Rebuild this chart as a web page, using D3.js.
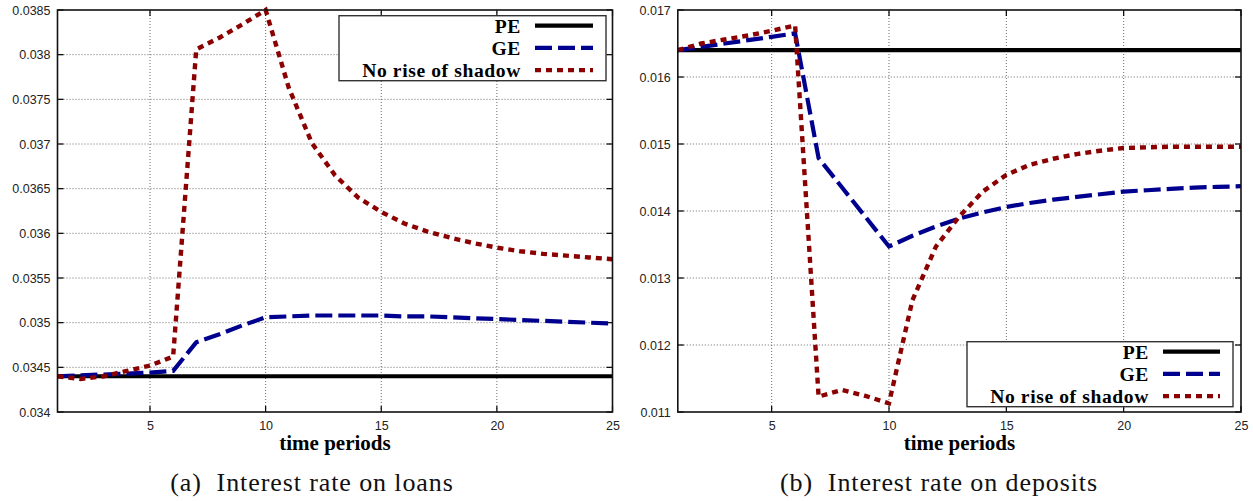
<!DOCTYPE html>
<html>
<head>
<meta charset="utf-8">
<script src="https://cdn.jsdelivr.net/npm/d3@7/dist/d3.min.js"></script>
<style>
  html, body { margin: 0; padding: 0; background: #fff; }
  svg { display: block; }
</style>
</head>
<body>
<svg id="chart" width="1253" height="501"></svg>
<script>
// ---------------- DATA ----------------
const periods = [1,2,3,4,5,6,7,8,9,10,11,12,13,14,15,16,17,18,19,20,21,22,23,24,25];

// (a) Interest rate on loans
const loansPE = [0.0344,0.0344,0.0344,0.0344,0.0344,0.0344,0.0344,0.0344,0.0344,0.0344,0.0344,0.0344,0.0344,0.0344,0.0344,0.0344,0.0344,0.0344,0.0344,0.0344,0.0344,0.0344,0.0344,0.0344,0.0344];
const loansGE = [0.03440,0.03441,0.03442,0.03443,0.03444,0.03446,0.03478,0.03487,0.03497,0.03506,0.03507,0.03508,0.03508,0.03508,0.03508,0.03507,0.03507,0.03506,0.03505,0.03504,0.03503,0.03502,0.03501,0.03500,0.03499];
const loansNoRise = [0.03440,0.03437,0.03440,0.03446,0.03452,0.03462,0.03806,0.03819,0.03834,0.03850,0.03763,0.03701,0.03665,0.03640,0.03624,0.03611,0.03602,0.03595,0.03589,0.03584,0.03580,0.03577,0.03575,0.03573,0.03571];

// (b) Interest rate on deposits
const depositsPE = [0.0164,0.0164,0.0164,0.0164,0.0164,0.0164,0.0164,0.0164,0.0164,0.0164,0.0164,0.0164,0.0164,0.0164,0.0164,0.0164,0.0164,0.0164,0.0164,0.0164,0.0164,0.0164,0.0164,0.0164,0.0164];
const depositsGE = [0.01640,0.01645,0.01650,0.01655,0.01660,0.01665,0.01479,0.01435,0.01391,0.01347,0.01363,0.01377,0.01389,0.01398,0.01406,0.01412,0.01417,0.01421,0.01425,0.01429,0.01431,0.01433,0.01435,0.01436,0.01437];
const depositsNoRise = [0.01640,0.01650,0.01656,0.01662,0.01669,0.01677,0.01123,0.01133,0.01124,0.01113,0.01267,0.01347,0.01392,0.01429,0.01454,0.01469,0.01478,0.01485,0.01490,0.01494,0.01495,0.01496,0.01496,0.01496,0.01496];

// Axis ticks
const xTicks = [5,10,15,20,25];
const loansYTicks = [0.034,0.0345,0.035,0.0355,0.036,0.0365,0.037,0.0375,0.038,0.0385];
const loansYLabels = ["0.034","0.0345","0.035","0.0355","0.036","0.0365","0.037","0.0375","0.038","0.0385"];
const depositsYTicks = [0.011,0.012,0.013,0.014,0.015,0.016,0.017];
const depositsYLabels = ["0.011","0.012","0.013","0.014","0.015","0.016","0.017"];

const seriesNames = ["PE","GE","No rise of shadow"];
const xLabel = "time periods";
const captions = ["(a)  Interest rate on loans", "(b)  Interest rate on deposits"];

// ---------------- STYLE ----------------
const styles = [
  { color: "#000000", width: 4.2, dash: null },
  { color: "#00008f", width: 4.2, dash: "17,6" },
  { color: "#8b0000", width: 4.4, dash: "6,5" }
];

const svg = d3.select("#chart");

function panel(cfg) {
  const x = d3.scaleLinear().domain([1, 25]).range([cfg.x0, cfg.x1]);
  const y = d3.scaleLinear().domain(cfg.yDomain).range([412, 10]);
  const g = svg.append("g");

  // grid
  g.append("g").selectAll("line").data(xTicks.filter(d => d < 25)).join("line")
    .attr("x1", d => x(d)).attr("x2", d => x(d)).attr("y1", y.range()[0]).attr("y2", y.range()[1])
    .attr("stroke", "#444").attr("stroke-width", 0.8).attr("stroke-dasharray", "1,2");
  g.append("g").selectAll("line").data(cfg.yTicks.slice(1, -1)).join("line")
    .attr("x1", x.range()[0]).attr("x2", x.range()[1]).attr("y1", d => y(d)).attr("y2", d => y(d))
    .attr("stroke", "#444").attr("stroke-width", 0.8).attr("stroke-dasharray", "1,2");

  // axes (labels) using d3 axes
  const yAxis = d3.axisLeft(y).tickValues(cfg.yTicks).tickFormat((d, i) => cfg.yLabels[i]).tickSize(0).tickPadding(7);
  const ya = g.append("g").attr("transform", `translate(${x.range()[0]},0)`).call(yAxis);
  ya.select(".domain").remove();
  ya.selectAll("text").attr("font-family", "'Liberation Sans', Arial, sans-serif").attr("font-size", 12.5).attr("fill", "#222");

  const xAxis = d3.axisBottom(x).tickValues(xTicks).tickSize(0).tickPadding(9);
  const xa = g.append("g").attr("transform", `translate(0,412)`).call(xAxis);
  xa.select(".domain").remove();
  xa.selectAll("text").attr("font-family", "'Liberation Sans', Arial, sans-serif").attr("font-size", 12.5).attr("fill", "#222");

  // inward ticks (mirrored)
  const tl = 6;
  g.append("g").selectAll("line").data(cfg.yTicks).join("line")
    .attr("x1", x.range()[0]).attr("x2", x.range()[0] + tl).attr("y1", d => y(d)).attr("y2", d => y(d))
    .attr("stroke", "#000").attr("stroke-width", 1.2);
  g.append("g").selectAll("line").data(cfg.yTicks).join("line")
    .attr("x1", x.range()[1]).attr("x2", x.range()[1] - tl).attr("y1", d => y(d)).attr("y2", d => y(d))
    .attr("stroke", "#000").attr("stroke-width", 1.2);
  g.append("g").selectAll("line").data(xTicks).join("line")
    .attr("x1", d => x(d)).attr("x2", d => x(d)).attr("y1", 412).attr("y2", 412 - tl)
    .attr("stroke", "#000").attr("stroke-width", 1.2);
  g.append("g").selectAll("line").data(xTicks).join("line")
    .attr("x1", d => x(d)).attr("x2", d => x(d)).attr("y1", 10).attr("y2", 10 + tl)
    .attr("stroke", "#000").attr("stroke-width", 1.2);

  // series
  const line = d3.line().x((d, i) => x(periods[i])).y(d => y(d)).curve(d3.curveLinear);
  cfg.series.forEach((s, i) => {
    g.append("path").datum(s).attr("d", line)
      .attr("fill", "none").attr("stroke", styles[i].color).attr("stroke-width", styles[i].width)
      .attr("stroke-dasharray", styles[i].dash).attr("stroke-linejoin", "miter");
  });

  // frame
  g.append("rect").attr("x", x.range()[0]).attr("y", 10)
    .attr("width", x.range()[1] - x.range()[0]).attr("height", 402)
    .attr("fill", "none").attr("stroke", "#111").attr("stroke-width", 1.6);

  // x axis title
  g.append("text").attr("x", (x.range()[0] + x.range()[1]) / 2).attr("y", 450)
    .attr("text-anchor", "middle").attr("font-family", "'Liberation Serif', 'Times New Roman', serif")
    .attr("font-weight", "bold").attr("font-size", 21).text(xLabel);

  // caption
  g.append("text").attr("x", cfg.capX).attr("y", 491)
    .attr("text-anchor", "middle").attr("font-family", "'Liberation Serif', 'Times New Roman', serif")
    .attr("font-size", 26).attr("letter-spacing", 0.9).attr("fill", "#111").style("white-space", "pre").text(cfg.caption);

  // legend
  const L = cfg.legend;
  const lg = g.append("g");
  lg.append("rect").attr("x", L.x0).attr("y", L.y0).attr("width", L.x1 - L.x0).attr("height", 65)
    .attr("fill", "#fff").attr("stroke", "#333").attr("stroke-width", 1.4);
  seriesNames.forEach((name, i) => {
    const ly = L.y0 + 10 + i * 22.2;
    lg.append("text").attr("x", L.textX).attr("y", ly + 7).attr("text-anchor", "end")
      .attr("font-family", "'Liberation Serif', 'Times New Roman', serif").attr("font-weight", "bold")
      .attr("font-size", 19.6).attr("letter-spacing", 0.6).text(name);
    lg.append("line").attr("x1", L.lineX0).attr("x2", L.lineX1).attr("y1", ly).attr("y2", ly)
      .attr("stroke", styles[i].color).attr("stroke-width", styles[i].width)
      .attr("stroke-dasharray", styles[i].dash);
  });
}

panel({
  x0: 57.5, x1: 612.5, yDomain: [0.034, 0.0385], yTicks: loansYTicks, yLabels: loansYLabels,
  series: [loansPE, loansGE, loansNoRise], caption: captions[0], capX: 312,
  legend: { x0: 339, x1: 606, y0: 15.7, textX: 521, lineX0: 535, lineX1: 593 }
});
panel({
  x0: 677.8, x1: 1241, yDomain: [0.011, 0.017], yTicks: depositsYTicks, yLabels: depositsYLabels,
  series: [depositsPE, depositsGE, depositsNoRise], caption: captions[1], capX: 939,
  legend: { x0: 967, x1: 1233, y0: 341.7, textX: 1149, lineX0: 1163, lineX1: 1220 }
});
</script>
</body>
</html>
